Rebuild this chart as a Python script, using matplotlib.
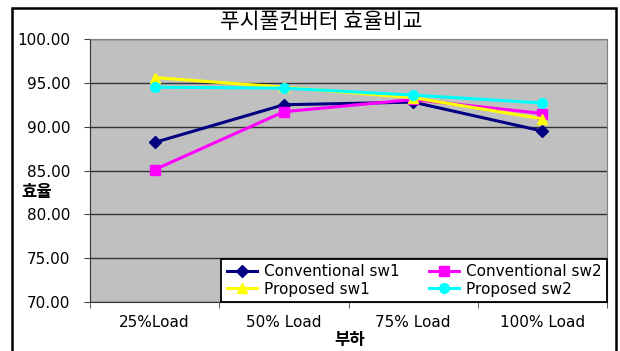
import matplotlib.pyplot as plt
import matplotlib.patches as mpatches
import numpy as np

loads = ["25%Load", "50% Load", "75% Load", "100% Load"]
conv_sw1 = [88.2, 92.5, 92.8, 89.5]
conv_sw2 = [85.1, 91.7, 93.1, 91.5]
prop_sw1 = [95.6, 94.5, 93.3, 90.9]
prop_sw2 = [94.5, 94.4, 93.6, 92.7]

series_names = ["Conventional sw1", "Conventional sw2", "Proposed sw1", "Proposed sw2"]
colors = ["#000080", "#FF00FF", "#FFFF00", "#00FFFF"]
markers = ["D", "s", "^", "o"]
msizes = [6, 7, 7.5, 7]

latin = ["DejaVu Sans", "Noto Sans CJK KR"]
korean = ["Noto Sans CJK KR", "DejaVu Sans"]

fig = plt.figure(figsize=(6.2, 3.51), dpi=100)
W, H = 620, 351

# outer chart frame (bottom edge runs off the image)
fig.add_artist(mpatches.Rectangle((12 / W, -0.05), 604 / W, (H - 8) / H + 0.05,
                                  transform=fig.transFigure, fill=False,
                                  edgecolor="black", linewidth=1.8))

ax = fig.add_axes([90 / W, 1 - 302 / H, 517 / W, 263 / H])
ax.set_facecolor("#C0C0C0")

x = np.arange(len(loads))
data = [conv_sw1, conv_sw2, prop_sw1, prop_sw2]
lines = []
for j in range(4):
    ln, = ax.plot(x, data[j], color=colors[j], marker=markers[j], markersize=msizes[j],
                  linewidth=2.2, label=series_names[j], markeredgecolor=colors[j])
    lines.append(ln)

ax.set_xlim(-0.5, 3.5)
ax.set_ylim(70, 100)
yt = np.arange(70, 101, 5)
ax.set_yticks(yt)
ax.set_yticklabels(["%.2f" % v for v in yt], family=latin, fontsize=11)
ax.set_xticks(x)
ax.set_xticklabels(loads, family=latin, fontsize=11)
ax.set_xticks(np.arange(-0.5, 3.6, 1), minor=True)
ax.tick_params(axis="x", which="major", length=0, pad=9.5)
ax.tick_params(axis="x", which="minor", length=4, color="#404040")
ax.tick_params(axis="y", length=4, color="#404040", pad=10)
ax.grid(axis="y", color="#333333", linewidth=1.0)
for side in ax.spines.values():
    side.set_color("#808080")
ax.spines["left"].set_color("#333333")
ax.spines["bottom"].set_color("#333333")

fig.text(321 / W, 1 - 22 / H, "푸시풀컨버터 효율비교", family=korean, fontsize=15.5,
         ha="center", va="center")
fig.text(37 / W, 1 - 192 / H, "효율", family=korean, fontsize=12, fontweight="bold",
         ha="center", va="center")
fig.text(350 / W, 1 - 340 / H, "부하", family=korean, fontsize=12, fontweight="bold",
         ha="center", va="center")

# rows: conventional on top, proposed below
order = [0, 2, 1, 3]
leg = ax.legend([lines[i] for i in order], [series_names[i] for i in order],
                loc="lower right", bbox_to_anchor=(1, 0), ncol=2, fancybox=False,
                framealpha=1, edgecolor="black", prop={"family": latin, "size": 11},
                borderaxespad=0, handlelength=2.0, columnspacing=1.9,
                labelspacing=0.15, borderpad=0.35, handletextpad=0.45)
leg.get_frame().set_linewidth(1.3)

fig.savefig("out.png", dpi=100)
